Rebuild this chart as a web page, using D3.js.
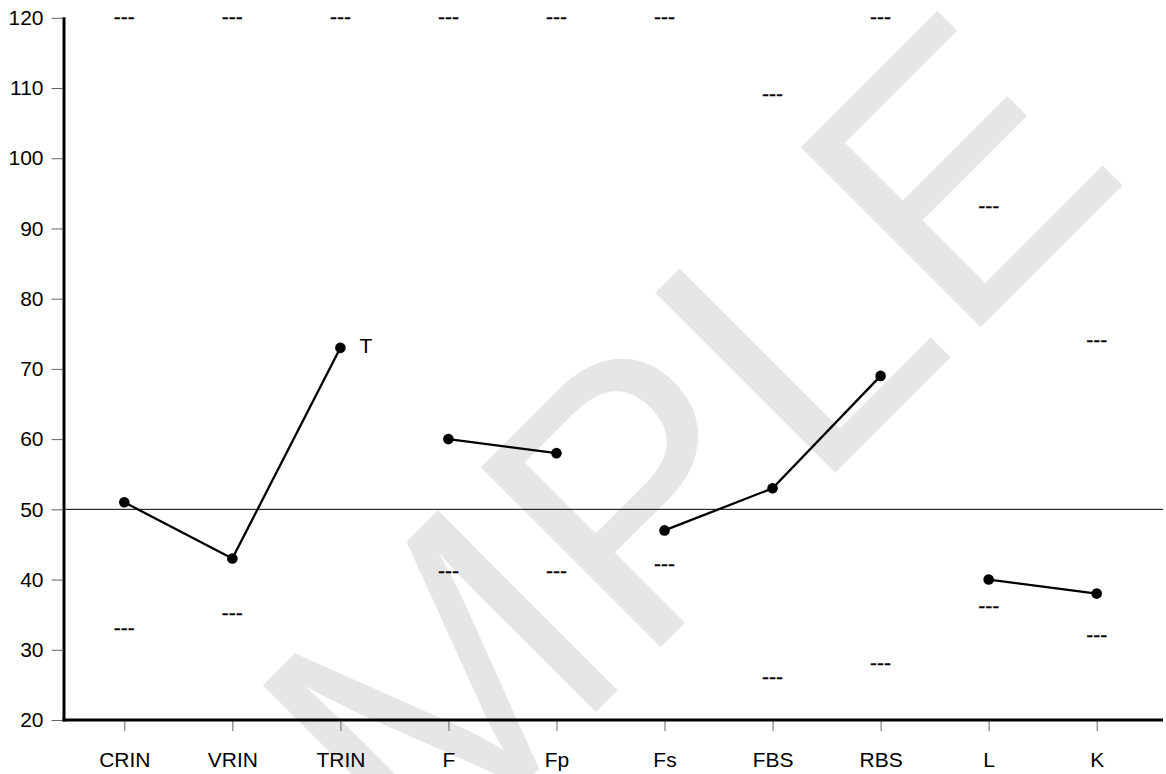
<!DOCTYPE html>
<meta charset="utf-8">

<!-- Load d3.js -->
<script src="https://d3js.org/d3.v7.min.js"></script>

<style>
body {
  margin: 0;
  background: #fff;
}
text {
  font-family: "Liberation Sans", Arial, Helvetica, sans-serif;
}
</style>

<svg id="chart" width="1166" height="774"></svg>

<script>
// The data
const categories = ["CRIN", "VRIN", "TRIN", "F", "Fp", "Fs", "FBS", "RBS", "L", "K"]
const scores     = [51, 43, 73, 60, 58, 47, 53, 69, 40, 38]
const upperMarks = [120, 120, 120, 120, 120, 120, 109, 120, 93, 74]
const lowerMarks = [33, 35, null, 41, 41, 42, 26, 28, 36, 32]
const flags      = ["", "", "T", "", "", "", "", "", "", ""]
// which scales are joined by a line
const groups     = [["CRIN", "VRIN", "TRIN"], ["F", "Fp"], ["Fs", "FBS", "RBS"], ["L", "K"]]
const yTicks     = [20, 30, 40, 50, 60, 70, 80, 90, 100, 110, 120]
const refValue   = 50

const svg = d3.select("#chart"),
    width = +svg.attr("width"),
    height = +svg.attr("height")

const plotLeft = 62.5, plotRight = 1163, plotTop = 17.8, plotBottom = 720
const fontSize = 21

const x = d3.scalePoint()
    .domain(categories)
    .range([124.3, 1096.7])

const y = d3.scaleLinear()
    .domain([20, 120])
    .range([plotBottom, plotTop])

// watermark, behind everything
svg.append("text")
    .attr("transform", "translate(603,705) rotate(-45)")
    .attr("text-anchor", "middle")
    .attr("font-size", 370)
    .attr("fill", "#e6e6e6")
    .text("SAMPLE")

// y axis
const yAxis = svg.append("g")
    .attr("transform", `translate(${plotLeft},0)`)
    .call(d3.axisLeft(y).tickValues(yTicks).tickSize(11).tickPadding(8))
yAxis.select(".domain").remove()
yAxis.selectAll(".tick line").attr("stroke", "#666")
yAxis.selectAll(".tick text")
    .attr("font-size", fontSize)
    .attr("fill", "#000")
    .style("font-family", '"Liberation Sans", Arial, sans-serif')

// x axis
const xAxis = svg.append("g")
    .attr("transform", `translate(0,${plotBottom})`)
    .call(d3.axisBottom(x).tickSize(11).tickPadding(21.5))
xAxis.select(".domain").remove()
xAxis.selectAll(".tick line").attr("stroke", "#666")
xAxis.selectAll(".tick text")
    .attr("font-size", fontSize)
    .attr("fill", "#000")
    .style("font-family", '"Liberation Sans", Arial, sans-serif')

// heavy axis lines
svg.append("line")
    .attr("x1", plotLeft + 1.5).attr("x2", plotLeft + 1.5)
    .attr("y1", plotTop - 0.5).attr("y2", plotBottom + 1.5)
    .attr("stroke", "#000").attr("stroke-width", 3)
svg.append("line")
    .attr("x1", plotLeft).attr("x2", plotRight)
    .attr("y1", plotBottom).attr("y2", plotBottom)
    .attr("stroke", "#000").attr("stroke-width", 3)

// reference line
svg.append("line")
    .attr("x1", plotLeft + 3).attr("x2", plotRight)
    .attr("y1", y(refValue)).attr("y2", y(refValue))
    .attr("stroke", "#000").attr("stroke-width", 1)

// range marks
const marks = []
categories.forEach((c, i) => {
  if (upperMarks[i] != null) marks.push({cat: c, v: upperMarks[i]})
  if (lowerMarks[i] != null) marks.push({cat: c, v: lowerMarks[i]})
})
svg.append("g")
  .selectAll("text")
  .data(marks)
  .join("text")
    .attr("x", d => x(d.cat))
    .attr("y", d => y(d.v) + 5.8)
    .attr("text-anchor", "middle")
    .attr("font-size", fontSize)
    .attr("stroke", "#000")
    .attr("stroke-width", 0.3)
    .text("---")

// profile lines
const points = categories.map((c, i) => ({cat: c, v: scores[i], flag: flags[i]}))
const line = d3.line()
    .x(d => x(d.cat))
    .y(d => y(d.v))

svg.append("g")
  .selectAll("path")
  .data(groups.map(g => points.filter(p => g.includes(p.cat))))
  .join("path")
    .attr("d", line)
    .attr("fill", "none")
    .attr("stroke", "#000")
    .attr("stroke-width", 2.3)

svg.append("g")
  .selectAll("circle")
  .data(points)
  .join("circle")
    .attr("cx", d => x(d.cat))
    .attr("cy", d => y(d.v))
    .attr("r", 5.3)
    .attr("fill", "#000")

// flags next to points
svg.append("g")
  .selectAll("text")
  .data(points.filter(p => p.flag))
  .join("text")
    .attr("x", d => x(d.cat) + 19)
    .attr("y", d => y(d.v) + 5.5)
    .attr("font-size", fontSize)
    .text(d => d.flag)
</script>
